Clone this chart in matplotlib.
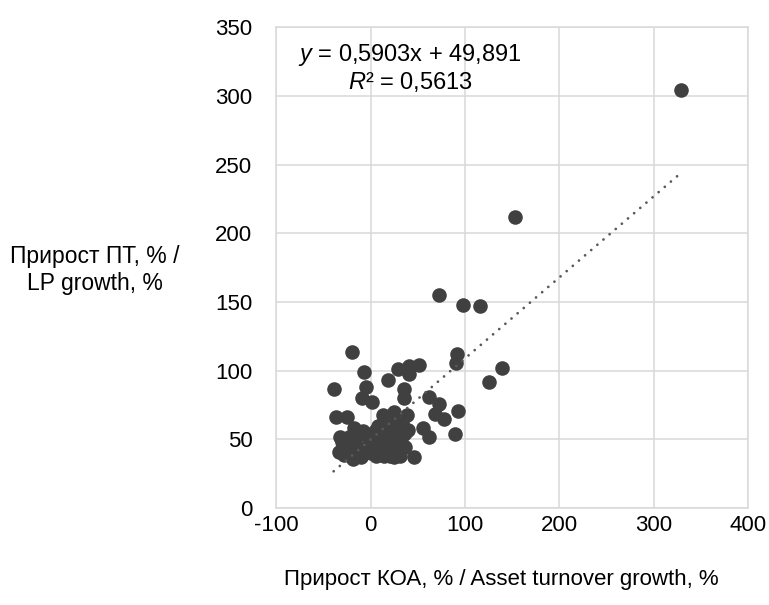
import matplotlib

matplotlib.use("Agg")
import matplotlib.pyplot as plt
import numpy as np

# scatter points: asset turnover growth (%) vs LP growth (%)
koa_growth = [
    329, 153, 73, 98, 116, 92, 91, 139, 126, 51, 40.5, 40.5, 29.5,
    -20, -7, -39, -5, -9, 2, 19, 35, 35, 61.5, 73, 68, 78, 92.5, 89.5,
    55.5, 62, 38.5, 25, 13, 39.5, 46, -37, -24.5, -18, -23, -21, -28,
    -19, -5,
    # dense cluster
    -33, -30, -14, -10, -6, 0, 3, 5, 6, 9, 12, 14, 16, 18, 20, 21, 23,
    26, 27, 29, 31, 33, 34, 37, 30, -12, 15, 22, -2,
    -32, -27, -25, -16, -13, -8, -3, 1, 4, 7, 10, 11, 17, 19, 24, 28,
    32, 36, 25, 8,
]
lp_growth = [
    304, 212, 155, 148, 147, 112.5, 106, 102, 92, 104.5, 103.5, 97.5, 101.5,
    114, 99, 87, 88, 80.5, 77, 93, 86.5, 80.5, 81, 76, 68.5, 65, 70.5, 54,
    58, 52, 67.5, 70, 68, 57, 37, 66.5, 66.5, 58, 52, 45, 39,
    36, 53,
    41, 48, 40, 37, 44, 40, 48, 56, 38, 44, 50, 38, 56, 44, 63, 38, 50,
    57, 42, 48, 38, 62, 53, 44.6, 40, 54, 48, 56, 52,
    52, 44, 40, 50, 44, 56, 45, 52, 43, 52, 40, 57, 40, 52, 45, 60,
    46, 55, 37, 60,
]

slope, intercept = 0.5903, 49.891
eq_text = "$y$ = 0,5903x + 49,891"
r2_text = "$R$² = 0,5613"

x_ticks = [-100, 0, 100, 200, 300, 400]
y_ticks = [0, 50, 100, 150, 200, 250, 300, 350]

plt.rcParams["font.family"] = ["Liberation Sans", "DejaVu Sans"]
plt.rcParams["mathtext.fontset"] = "custom"
plt.rcParams["mathtext.rm"] = "Liberation Sans"
plt.rcParams["mathtext.it"] = "Liberation Sans:italic"

fig = plt.figure(figsize=(7.69, 6.05), dpi=100)
ax = fig.add_axes([0.359, 0.160, 0.614, 0.795])

grid_c = "#d9d9d9"
ax.set_xlim(-100, 400)
ax.set_ylim(0, 350)
ax.set_xticks(x_ticks)
ax.set_yticks(y_ticks)
ax.set_xticklabels(["-100", "0", "100", "200", "300", "400"])
ax.grid(True, color=grid_c, linewidth=1.1)
ax.set_axisbelow(True)
for sp in ax.spines.values():
    sp.set_color(grid_c)
    sp.set_linewidth(1.1)
ax.tick_params(length=0, labelsize=16, colors="black")
ax.tick_params(axis="x", pad=5)
ax.tick_params(axis="y", pad=17)

ax.scatter(koa_growth, lp_growth, s=110, color="#404040", linewidths=0, zorder=3)

xs = np.array([min(koa_growth), max(koa_growth)])
ax.plot(xs, slope * xs + intercept, color="#595959", linewidth=2.0,
        linestyle=(0, (0.01, 2.9)), dash_capstyle="round", zorder=4)

ax.text(0.284, 0.942, eq_text, transform=ax.transAxes, ha="center", va="center", fontsize=17)
ax.text(0.284, 0.886, r2_text, transform=ax.transAxes, ha="center", va="center", fontsize=17)

fig.text(95 / 769, 1 - 270 / 605, "Прирост ПТ, % /\nLP growth, %", ha="center", va="center",
         fontsize=16.5, linespacing=1.2)
fig.text(501 / 769, 1 - 580 / 605, "Прирост КОА, % / Asset turnover growth, %", ha="center",
         va="center", fontsize=16)

fig.savefig("out.png", dpi=100)
